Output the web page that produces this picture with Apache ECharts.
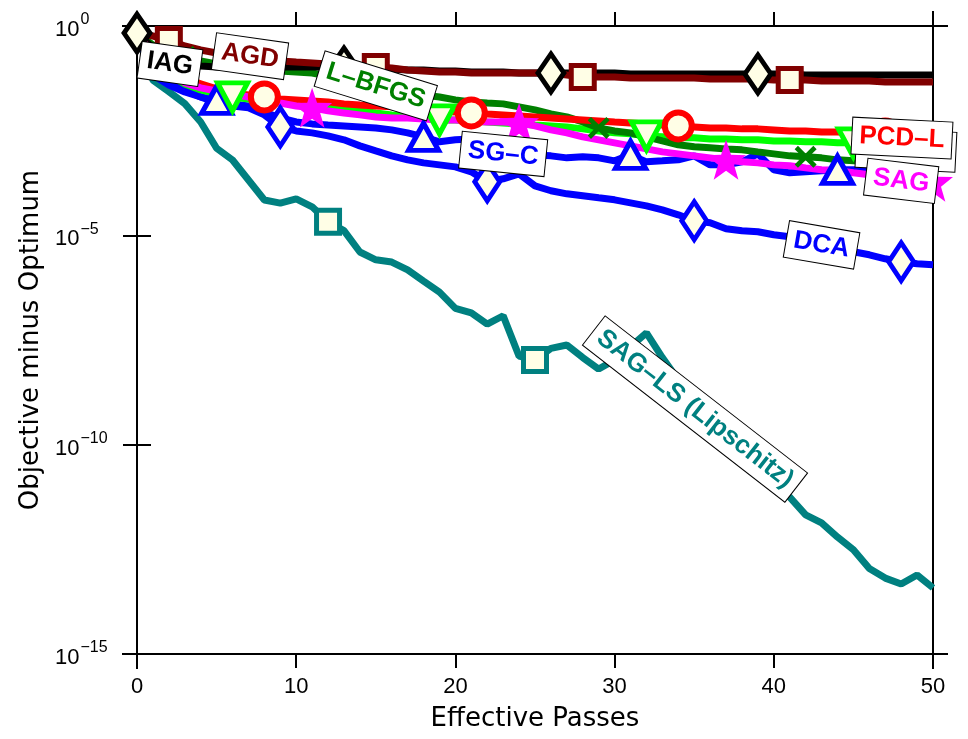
<!DOCTYPE html>
<html>
<head>
<meta charset="utf-8">
<script src="https://cdn.jsdelivr.net/npm/echarts@6/dist/echarts.min.js"></script>
<style>html,body{margin:0;padding:0;background:#fff}#c{width:968px;height:739px}</style>
</head>
<body>
<div id="c"></div>
<script>
// ---- data (x = effective passes, y = objective minus optimum) ----
const passes = [0,1,2,3,4,5,6,7,8,9,10,11,12,13,14,15,16,17,18,19,20,21,22,23,24,25,26,27,28,29,30,31,32,33,34,35,36,37,38,39,40,41,42,43,44,45,46,47,48,49,50];
const xTicks = [0,10,20,30,40,50];
const yTickExponents = [0,-5,-10,-15];

const iag = [0.68,0.30,0.18,0.131,0.111,0.105,0.105,0.105,0.105,0.105,0.105,0.105,0.105,0.105,0.0995,0.0942,0.0942,0.0892,0.0892,0.0844,0.0844,0.0799,0.0799,0.0799,0.0756,0.0756,0.0756,0.0756,0.0756,0.0756,0.0756,0.0716,0.0716,0.0716,0.0716,0.0716,0.0716,0.0716,0.0716,0.0716,0.0716,0.0716,0.0677,0.0677,0.0677,0.0677,0.0677,0.0677,0.0677,0.0677,0.0677];
const agd = [0.68,0.577,0.463,0.333,0.268,0.227,0.203,0.182,0.163,0.146,0.138,0.131,0.124,0.117,0.111,0.105,0.0995,0.0892,0.0844,0.0799,0.0799,0.0756,0.0756,0.0756,0.0756,0.0756,0.0756,0.0677,0.0607,0.0607,0.0607,0.0575,0.0575,0.0575,0.0575,0.0575,0.0544,0.0544,0.0544,0.0544,0.0515,0.0515,0.0515,0.0487,0.0487,0.0487,0.0487,0.0461,0.0461,0.0461,0.0461];
const lbfgs = [0.68,0.352,0.240,0.182,0.146,0.124,0.111,0.0995,0.0892,0.0844,0.0799,0.0756,0.0641,0.0515,0.0437,0.0370,0.0314,0.0266,0.0226,0.0202,0.0172,0.0154,0.0145,0.0138,0.0117,0.0099,0.00795,0.00674,0.00512,0.00368,0.00312,0.0028,0.00225,0.0018,0.00145,0.0013,0.00123,0.00116,0.0011,0.000985,0.000883,0.000791,0.000749,0.000709,0.000635,0.000601,0.000569,0.000538,0.00051,0.000482,0.000457];
const limeSeries = [0.68,0.154,0.0677,0.0413,0.0297,0.0239,0.0202,0.0181,0.0162,0.0145,0.0138,0.0123,0.0111,0.0105,0.00938,0.0084,0.00753,0.00712,0.00638,0.00572,0.00572,0.00541,0.00512,0.00485,0.00459,0.00434,0.00411,0.00389,0.00349,0.00312,0.0028,0.00265,0.00237,0.00225,0.00213,0.00213,0.00201,0.00201,0.00191,0.00191,0.0018,0.0018,0.00171,0.00171,0.00162,0.00162,0.00153,0.00145,0.00137,0.0013,0.00123];
const pcdL = [0.68,0.203,0.0995,0.0607,0.0413,0.0314,0.0252,0.0226,0.0202,0.0181,0.0172,0.0162,0.0154,0.0138,0.013,0.0123,0.0117,0.0111,0.0099,0.00938,0.00887,0.0084,0.00795,0.00753,0.00712,0.00674,0.00638,0.00604,0.00572,0.00541,0.00512,0.00485,0.00459,0.00434,0.00411,0.00389,0.00368,0.00368,0.00349,0.00349,0.0033,0.00312,0.00312,0.00295,0.00295,0.0028,0.0028,0.00265,0.00265,0.00251,0.00251];
const sag = [0.68,0.203,0.0799,0.0437,0.0332,0.0281,0.0239,0.0202,0.0172,0.0145,0.0123,0.0111,0.00938,0.0084,0.00753,0.00674,0.00638,0.00638,0.00604,0.00572,0.00572,0.00541,0.00512,0.00512,0.00485,0.00411,0.0033,0.0028,0.00225,0.00191,0.00162,0.00137,0.00116,0.000985,0.000883,0.000791,0.000709,0.000635,0.000569,0.000538,0.000482,0.000457,0.000409,0.000367,0.000347,0.000311,0.000279,0.00025,0.000237,0.000212,0.00019];
const sgC = [0.68,0.0677,0.0391,0.0266,0.0202,0.0172,0.0138,0.0123,0.00887,0.00638,0.00512,0.00459,0.00434,0.00411,0.00389,0.00368,0.0033,0.0028,0.00225,0.00171,0.00191,0.00201,0.00162,0.00123,0.000985,0.000835,0.000791,0.000709,0.000749,0.000709,0.000601,0.000835,0.000569,0.000601,0.000635,0.000791,0.000482,0.000482,0.000569,0.000883,0.000367,0.000311,0.000329,0.000347,0.000367,0.000367,0.000347,0.000329,0.000311,0.000311,0.000294];
const dca = [0.68,0.0892,0.0461,0.0297,0.0202,0.0145,0.0123,0.0111,0.00753,0.00389,0.00312,0.0028,0.00237,0.00191,0.00137,0.00104,0.000791,0.000635,0.000538,0.000482,0.000432,0.000329,0.00019,0.000224,0.000294,0.000152,0.000116,0.000098,0.0000879,0.0000787,0.0000705,0.0000598,0.0000507,0.0000407,0.0000309,0.0000223,0.0000199,0.0000143,0.0000128,0.0000122,0.0000103,0.00000924,0.00000742,0.00000595,0.00000477,0.00000405,0.00000343,0.00000275,0.00000234,0.00000209,0.00000198];
const sagLS = [0.68,0.051,0.027,0.014,0.0051,0.0012,0.00063,0.00021,0.00007,0.000059,0.000074,0.000048,0.000021,0.000013,0.000004,0.0000026,0.0000023,0.0000015,0.00000081,0.00000044,1.8e-7,1.4e-7,7.6e-8,1.2e-7,1.3e-8,1.05e-8,2.0e-8,2.4e-8,1.2e-8,6.4e-9,1.05e-8,2.2e-8,4.7e-8,1.2e-8,3.5e-9,1.05e-9,2.5e-10,7.5e-11,4.3e-11,2.4e-11,1.2e-11,5.6e-12,2.1e-12,1.35e-12,6.2e-13,3.1e-13,1.1e-13,6.5e-14,4.7e-14,7.7e-14,3.8e-14];

// marker positions (indices into passes)
const marksIAG = [0,13,26,39];
const marksAGD = [2,15,28,41];
const marksLBFGS = [3,16,29,42];
const marksLime = [6,19,32,45];
const marksPCDL = [8,21,34,47];
const marksSGC = [5,18,31,44];
const marksDCA = [9,22,35,48];
const marksSAG = [11,24,37,50];
const marksSAGLS = [12,25];

// in-plot label anchors (data coordinates)
const labelTexts = ['IAG','AGD','L–BFGS','SG–C','PCD–L','SAG','DCA','SAG–LS (Lipschitz)'];
const labelX = [2.07, 7.1, 15.0, 23.0, 48.05, 48.0, 43.0, 35.05];
const labelY = [0.124, 0.19, 0.037, 8.8e-4, 2.1e-3, 2.0e-4, 5.9e-6, 7.1e-10];
const hiddenBoxAnchor = [48.3, 1.1e-3];

// ---- styling ----
const CREAM = '#fffee6';
const TICK_FONT = "'Liberation Sans Narrow', 'Liberation Sans', Arial, sans-serif";
const TITLE_FONT = "'DejaVu Sans', 'Liberation Sans', sans-serif";
const LABEL_FONT = "'Liberation Sans', Arial, sans-serif";
const STAR = 'path://M0,-10L2.35,-3.24L9.51,-3.09L3.8,1.24L5.88,8.09L0,4L-5.88,8.09L-3.8,1.24L-9.51,-3.09L-2.35,-3.24Z';
const XMARK = 'path://M-10,-7L-7,-10L0,-3L7,-10L10,-7L3,0L10,7L7,10L0,3L-7,10L-10,7L-3,0Z';

const defs = [
  {name:'SAG–LS (Lipschitz)', values:sagLS, marks:marksSAGLS, color:'#008080', symbol:'rect', size:23, bw:5, fill:CREAM},
  {name:'DCA', values:dca, marks:marksDCA, color:'#0000ff', symbol:'diamond', size:[25,38], bw:5, fill:CREAM},
  {name:'SG–C', values:sgC, marks:marksSGC, color:'#0000ff', symbol:'triangle', size:[30,27], bw:5, fill:CREAM},
  {name:'lime', values:limeSeries, marks:marksLime, color:'#00ff00', symbol:'triangle', size:[30,28], bw:5, fill:CREAM, rotate:180},
  {name:'L–BFGS', values:lbfgs, marks:marksLBFGS, color:'#008000', symbol:XMARK, size:22, bw:0, fill:'#008000'},
  {name:'IAG', values:iag, marks:marksIAG, color:'#000000', symbol:'diamond', size:[26,38], bw:5, fill:CREAM},
  {name:'AGD', values:agd, marks:marksAGD, color:'#800000', symbol:'rect', size:23, bw:5, fill:CREAM},
  {name:'PCD–L', values:pcdL, marks:marksPCDL, color:'#ff0000', symbol:'circle', size:27, bw:6, fill:CREAM},
  {name:'SAG', values:sag, marks:marksSAG, color:'#ff00ff', symbol:STAR, size:40, bw:0, fill:'#ff00ff'}
];
const labelColors = ['#000000','#800000','#008000','#0000ff','#ff0000','#ff00ff','#0000ff','#008080'];
const labelRot = [-0.14,-0.14,-0.30,-0.10,-0.05,-0.12,-0.17,-0.66];

const chart = echarts.init(document.getElementById('c'), null, {renderer:'canvas'});

const series = [];
defs.forEach(d => {
  series.push({
    type:'line', name:d.name, data: passes.map((p,i)=>[p, d.values[i]]),
    symbol:'none', showSymbol:false, lineStyle:{color:d.color, width:7}, z:2, silent:true
  });
});
defs.forEach(d => {
  series.push({
    type:'scatter', name:d.name+' markers', data: d.marks.map(i=>[passes[i], d.values[i]]),
    symbol:d.symbol, symbolSize:d.size, symbolRotate:d.rotate||0, clip:false,
    itemStyle:{color:d.fill, borderColor:d.color, borderWidth:d.bw, opacity:1}, z:3, silent:true
  });
});

const tickStyle = {show:true, inside:false, length:14, lineStyle:{color:'#000', width:2}};
const supFmt = v => {
  const e = Math.round(Math.log10(v));
  return '{b|10}{s|' + (e === 0 ? '0' : '−' + (-e)) + '}';
};

const option = {
  animation:false,
  backgroundColor:'#ffffff',
  grid:{left:137, right:35, top:26, bottom:85, containLabel:false},
  xAxis:[
    {type:'value', position:'bottom', min:0, max:50, interval:10,
     axisLine:{show:true, lineStyle:{color:'#000', width:2}}, axisTick:tickStyle, splitLine:{show:false},
     axisLabel:{color:'#000', fontSize:22, fontFamily:TICK_FONT, margin:22,
       formatter: v => xTicks.includes(v) ? String(v) : ''},
     name:'Effective Passes', nameLocation:'middle', nameGap:52,
     nameTextStyle:{color:'#000', fontSize:26, fontFamily:TITLE_FONT}},
    {type:'value', position:'top', min:0, max:50, interval:10,
     axisLine:{show:true, lineStyle:{color:'#000', width:2}}, axisTick:tickStyle, splitLine:{show:false},
     axisLabel:{show:false}}
  ],
  yAxis:[
    {type:'log', logBase:10, position:'left', min:1e-15, max:1, interval:5,
     axisLine:{show:true, lineStyle:{color:'#000', width:2}}, axisTick:tickStyle, splitLine:{show:false},
     minorTick:{show:false},
     axisLabel:{align:'left', margin:82, formatter:supFmt,
       rich:{b:{fontSize:22, fontFamily:TICK_FONT, color:'#000', lineHeight:30, verticalAlign:'bottom'},
             s:{fontSize:16, fontFamily:LABEL_FONT, color:'#000', lineHeight:30, verticalAlign:'bottom', padding:[0,0,13,1]}}},
     name:'Objective minus Optimum', nameLocation:'middle', nameGap:92, nameRotate:90,
     nameTextStyle:{color:'#000', fontSize:26, fontFamily:TITLE_FONT}},
    {type:'log', logBase:10, position:'right', min:1e-15, max:1, interval:5,
     axisLine:{show:true, lineStyle:{color:'#000', width:2}}, axisTick:tickStyle, splitLine:{show:false},
     axisLabel:{show:false}}
  ],
  series: series
};
chart.setOption(option);

// frame extensions and in-plot labels
const toPx = (x, v) => chart.convertToPixel({xAxisIndex:0, yAxisIndex:0}, [x, v]);
const tl = toPx(0, 1), br = toPx(50, 1e-15);
const ext = 15;
const frame = [
  [tl[0]-ext, tl[1], br[0]+ext, tl[1]],
  [tl[0]-ext, br[1], br[0]+ext, br[1]],
  [tl[0], tl[1]-ext, tl[0], br[1]+ext],
  [br[0], tl[1]-ext, br[0], br[1]+ext]
];
const graphics = frame.map(l => ({type:'line', silent:true, z:1,
  shape:{x1:l[0], y1:l[1], x2:l[2], y2:l[3]}, style:{stroke:'#000', lineWidth:2}}));

const hp = toPx(hiddenBoxAnchor[0], hiddenBoxAnchor[1]);
graphics.push({type:'rect', x:hp[0], y:hp[1], rotation:-0.05, z:99, silent:true,
  shape:{x:-50, y:-20, width:100, height:40}, style:{fill:'#fff', stroke:'#000', lineWidth:1}});

labelTexts.forEach((t, i) => {
  const p = toPx(labelX[i], labelY[i]);
  graphics.push({type:'text', x:p[0], y:p[1], rotation:labelRot[i], z:100, silent:true,
    style:{text:t, fill:labelColors[i], fontSize:26, fontWeight:'bold', fontFamily:LABEL_FONT,
      align:'center', verticalAlign:'middle', backgroundColor:'#fff', borderColor:'#000', borderWidth:1, padding:[5,7]}});
});
chart.setOption({graphic:graphics});
</script>
</body>
</html>
